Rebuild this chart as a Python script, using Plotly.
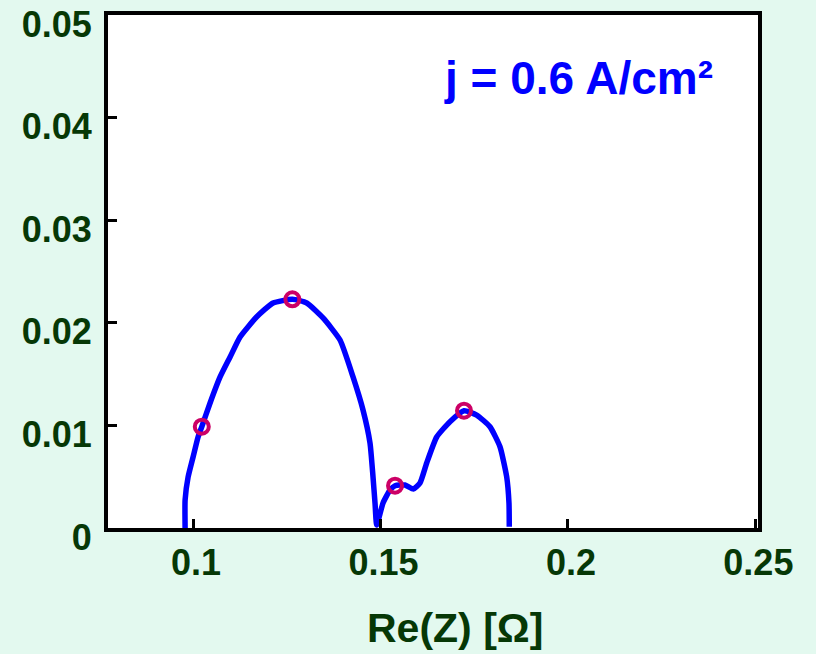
import plotly.graph_objects as go

# Nyquist-type curve: Re(Z) vs -Im(Z)
re_z = [0.09787, 0.09787, 0.09867, 0.1000, 0.10133, 0.10232, 0.10453, 0.10720, 0.10987,
        0.11253, 0.11699, 0.12133, 0.12648, 0.13032, 0.13467, 0.13920, 0.14267, 0.14533,
        0.14720, 0.14800, 0.14853, 0.14899, 0.15067, 0.15253, 0.15387, 0.15653, 0.15875,
        0.16053, 0.16232, 0.16499, 0.16853, 0.17227, 0.17565, 0.17920, 0.18187, 0.18365,
        0.18427, 0.18435]
im_z = [0.0, 0.00273, 0.00497, 0.00692, 0.00887, 0.00987, 0.01218, 0.01472, 0.01667,
        0.01862, 0.02059, 0.02193, 0.02229, 0.02193, 0.02047, 0.01832, 0.01472, 0.01150,
        0.00828, 0.00497, 0.00244, 0.00030, 0.00244, 0.00370, 0.00412, 0.00419, 0.00380,
        0.00439, 0.00634, 0.00887, 0.01036, 0.01143, 0.01101, 0.00987, 0.00792, 0.00500,
        0.00244, 0.00013]

marker_re = [0.10232, 0.12648, 0.15387, 0.17227]
marker_im = [0.00987, 0.02229, 0.00412, 0.01143]

x_ticks = [0.1, 0.15, 0.2, 0.25]
x_tick_text = ["0.1", "0.15", "0.2", "0.25"]
y_ticks = [0, 0.01, 0.02, 0.03, 0.04, 0.05]
y_tick_text = ["0", "0.01", "0.02", "0.03", "0.04", "0.05"]

label_color = "#063806"
font_family = "Liberation Sans, Arial, sans-serif"

fig = go.Figure()
fig.add_trace(go.Scatter(x=re_z, y=im_z, mode="lines",
                         line=dict(color="#0000ff", width=5.5, shape="spline", smoothing=0.5),
                         showlegend=False))
fig.add_trace(go.Scatter(x=marker_re, y=marker_im, mode="markers",
                         marker=dict(symbol="circle-open", size=14, color="#cc0066",
                                     line=dict(width=4, color="#cc0066")),
                         showlegend=False))

fig.add_annotation(x=0.7246, y=0.877, xref="paper", yref="paper",
                   text="<b>j = 0.6 A/cm²</b>", showarrow=False,
                   xanchor="center", yanchor="middle",
                   font=dict(family=font_family, size=46, color="#0000ff"))
fig.add_annotation(x=0.534, y=-0.195, xref="paper", yref="paper",
                   text="<b>Re(Z) [Ω]</b>", showarrow=False,
                   xanchor="center", yanchor="middle",
                   font=dict(family=font_family, size=41, color=label_color))

fig.update_layout(
    width=816, height=654,
    margin=dict(l=108, r=58, t=15, b=126, autoexpand=False),
    paper_bgcolor="#e3f9ef",
    plot_bgcolor="#ffffff",
    font=dict(family=font_family),
    xaxis=dict(range=[0.0773, 0.2507], tickvals=x_ticks, ticktext=x_tick_text,
               ticks="inside", ticklen=9, tickwidth=3, tickcolor="#000000",
               showgrid=False, zeroline=False, showline=True, linecolor="#000000",
               linewidth=4, mirror=True, ticklabelstandoff=0, ticklabelshift=3,
               ticklabeloverflow="allow", automargin=False,
               tickfont=dict(family=font_family, size=36, color=label_color, weight="bold")),
    yaxis=dict(range=[0, 0.05], tickvals=y_ticks, ticktext=y_tick_text,
               ticks="inside", ticklen=9, tickwidth=3, tickcolor="#000000",
               showgrid=False, zeroline=False, showline=True, linecolor="#000000",
               linewidth=4, mirror=True, ticklabelstandoff=5, ticklabelshift=9,
               ticklabeloverflow="allow", automargin=False,
               tickfont=dict(family=font_family, size=36, color=label_color, weight="bold")),
)

fig.write_html("out.html", config={"displayModeBar": False},
               post_script="document.body.style.margin='0';")
